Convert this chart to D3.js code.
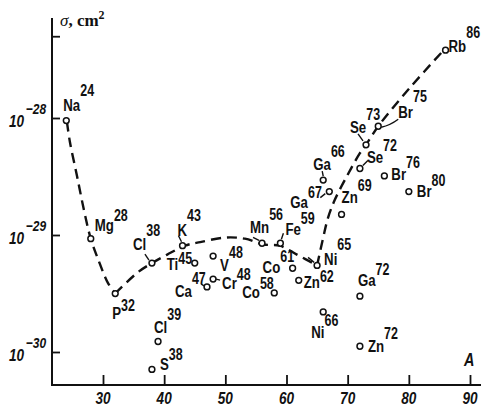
<!DOCTYPE html>
<html>
<head>
<meta charset="utf-8">
<script src="https://cdn.jsdelivr.net/npm/d3@7"></script>
<style>
  body { margin: 0; background: #fff; }
  svg { display: block; }
  .lbl { font-family: "Liberation Sans", Arial, sans-serif; font-weight: bold; fill: #111; }
  .tick-lbl { font-family: "Liberation Sans", Arial, sans-serif; font-style: italic; font-weight: bold; fill: #111; }
</style>
</head>
<body>
<script>
// isotopes (symbol, mass number) and their cross sections, cm^2
var symbols = ["Na","Mg","P","Cl","K","Ti","V","Ca","Cr","Mn","Fe","Co","Co","Zn","Ni","Ni","Ga","Zn","Ga","Ga","Zn","Se","Se","Br","Br","Br","Rb","S","Cl"];
var massNumbers = [24,28,32,38,43,45,48,47,48,56,59,61,58,62,65,66,72,72,66,67,69,72,73,75,76,80,86,38,39];
var sigma = [9.5e-29,9.3e-30,3.16e-30,5.75e-30,8.1e-30,5.75e-30,6.6e-30,3.6e-30,4.2e-30,8.5e-30,8.5e-30,5.2e-30,3.2e-30,4.1e-30,5.5e-30,2.2e-30,3.0e-30,1.12e-30,2.95e-29,2.35e-29,1.5e-29,3.7e-29,5.9e-29,8.5e-29,3.2e-29,2.35e-29,3.8e-28,7.1e-31,1.23e-30];

// dashed curve, three pieces
var curve1A = [24.1,24.6,25.75,26.9,28.0,29.2,30.8,32.0];
var curve1S = [9.3e-29,6.2e-29,3.2e-29,1.62e-29,9.3e-30,6.2e-30,3.9e-30,3.16e-30];
var curve2A = [32.0,35.7,38.0,40.5,43.4,45.9,49.9,53.2,56.2,58.9,61.7,65.0];
var curve2S = [3.16e-30,4.8e-30,5.75e-30,6.8e-30,8.1e-30,8.7e-30,9.5e-30,9.3e-30,8.3e-30,8.1e-30,6.8e-30,5.5e-30];
var curve3A = [65.0,66.0,66.8,67.9,69.9,72.0,73.0,75.0,80.2,85.7];
var curve3S = [5.5e-30,9.5e-30,1.41e-29,2.0e-29,3.2e-29,5.0e-29,5.9e-29,8.5e-29,1.82e-28,3.8e-28];

// axis ticks
var xTicks = [30,40,50,60,70,80,90];
var yTicks = [1e-30,1e-29,1e-28,5e-28];
var yTickLabels = {"1e-30": "-30", "1e-29": "-29", "1e-28": "-28"};

// label layout: [dx, dy, superscript dy] relative to the point
var labelPos = [[-3,-10,-15],[4,-8,-10],[-3,25,-8],[-19,-13,-14],[-5,-10,-15],[-28,7,-6],[7,15,-13],[-32,10,-13],[9,10,-9],[-12,-10,-13],[5,-8,-11],[-30,5,-11],[-32,5,-9],[5,8,-6],[7,0,-15],[-12,26,-12],[-2,-10,-11],[8,6,-13],[-10,-10,-13],[-39,16,-10],[0,-11,-12],[7,-6,-12],[-16,-12,-13],[20,-8,-16],[7,4,-12],[8,5,-11],[3,2,-14],[8,1,-10],[-4,-8,-13]];
// short leader lines from circles to labels: [index, x1, y1, x2, y2]
var leaders = [[3,-3,-3,-7,-9],[4,-1,-4,-4,-10],[9,-3,-3,-9,-6],[10,1,-4,3,-10],[18,0,-4,-1,-9],[19,-4,2,-9,6],[21,3,-3,8,-8],[22,-3,-4,-8,-11],[8,3,0,7,1],[7,-3,-1,-6,-3],[14,-3,-3,-9,-8]];

var narrow = 0.78; // condensed look of the book's type

var width = 482, height = 408;
var svg = d3.select("body").append("svg").attr("width", width).attr("height", height);

var x = d3.scaleLinear().domain([30, 90]).range([103, 470]);
var y = d3.scaleLog().domain([1e-30, 1e-28]).range([352, 118]);

var axisX0 = 52, axisY0 = 385, axisTop = 18, axisRight = 481;

// axes lines
svg.append("path")
	.attr("d", "M" + axisX0 + "," + axisTop + "V" + axisY0 + "H" + axisRight)
	.attr("fill", "none").attr("stroke", "#111").attr("stroke-width", 2);

var gx = svg.append("g").attr("transform", "translate(0," + axisY0 + ")")
	.call(d3.axisBottom(x).tickValues(xTicks).tickSize(-10).tickSizeOuter(0).tickFormat(""));
var gy = svg.append("g").attr("transform", "translate(" + axisX0 + ",0)")
	.call(d3.axisLeft(y).tickValues(yTicks).tickSize(-8).tickSizeOuter(0).tickFormat(""));
[gx, gy].forEach(function(g) {
	g.select(".domain").remove();
	g.selectAll(".tick line").attr("stroke", "#111").attr("stroke-width", 1.8);
});

// x tick labels
svg.selectAll("text.xt")
	.data(xTicks)
	.enter().append("text")
	.attr("class", "tick-lbl xt")
	.attr("transform", function(d) { return "translate(" + x(d) + ",404) scale(0.8,1)"; })
	.attr("text-anchor", "middle").attr("font-size", 17)
	.text(function(d) { return d; });

// y tick labels 10^n
yTicks.forEach(function(v) {
	var lab = yTickLabels[String(v)];
	if (!lab) return;
	var t = svg.append("text").attr("class", "tick-lbl")
		.attr("transform", "translate(9," + (y(v) + 9) + ") scale(0.8,1)")
		.attr("font-size", 17);
	t.append("tspan").text("10");
	t.append("tspan").attr("dy", -13).attr("dx", 2).attr("font-size", 15).text(lab.replace("-", "\u2212"));
});

// axis titles
var title = svg.append("text").attr("x", 60).attr("y", 26)
	.attr("font-family", "Liberation Serif, serif").attr("font-size", 17).attr("fill", "#111");
title.append("tspan").attr("font-style", "italic").text("\u03c3");
title.append("tspan").attr("font-weight", "bold").text(", cm");
title.append("tspan").attr("dy", -7).attr("font-size", 12).attr("font-weight", "bold").text("2");

svg.append("text").attr("class", "tick-lbl")
	.attr("transform", "translate(464,366) scale(0.8,1)")
	.attr("font-size", 18).text("A");

// dashed curve
var line = d3.line()
	.x(function(d) { return x(d[0]); })
	.y(function(d) { return y(d[1]); })
	.curve(d3.curveCatmullRom.alpha(0.5));
[[curve1A, curve1S], [curve2A, curve2S], [curve3A, curve3S]].forEach(function(c) {
	svg.append("path")
		.datum(d3.zip(c[0], c[1]))
		.attr("d", line)
		.attr("fill", "none").attr("stroke", "#111")
		.attr("stroke-width", 2.4).attr("stroke-dasharray", "10,6");
});

// Br75 curved leader
var br = 23;
svg.append("path")
	.attr("d", "M" + (x(massNumbers[br]) + 3) + "," + (y(sigma[br]) + 1) +
		" Q" + (x(massNumbers[br]) + 12) + "," + (y(sigma[br]) - 1) + " " + (x(massNumbers[br]) + 20) + "," + (y(sigma[br]) - 7))
	.attr("fill", "none").attr("stroke", "#111").attr("stroke-width", 1.4);

// leader lines
leaders.forEach(function(l) {
	var cx = x(massNumbers[l[0]]), cy = y(sigma[l[0]]);
	svg.append("line")
		.attr("x1", cx + l[1]).attr("y1", cy + l[2])
		.attr("x2", cx + l[3]).attr("y2", cy + l[4])
		.attr("stroke", "#111").attr("stroke-width", 1.4);
});

// points
svg.selectAll("circle.pt")
	.data(d3.range(symbols.length))
	.enter().append("circle")
	.attr("class", "pt")
	.attr("cx", function(i) { return x(massNumbers[i]); })
	.attr("cy", function(i) { return y(sigma[i]); })
	.attr("r", 2.9)
	.attr("fill", "#fff").attr("stroke", "#111").attr("stroke-width", 1.5);

// labels
var labels = svg.selectAll("text.lbl")
	.data(d3.range(symbols.length))
	.enter().append("text")
	.attr("class", "lbl")
	.attr("transform", function(i) {
		return "translate(" + (x(massNumbers[i]) + labelPos[i][0]) + "," + (y(sigma[i]) + labelPos[i][1]) + ") scale(" + narrow + ",1)";
	})
	.attr("font-size", 17);
labels.append("tspan").text(function(i) { return symbols[i]; });
labels.append("tspan")
	.attr("dx", 0)
	.attr("dy", function(i) { return labelPos[i][2]; })
	.attr("font-size", 16)
	.text(function(i) { return massNumbers[i]; });
</script>
</body>
</html>
